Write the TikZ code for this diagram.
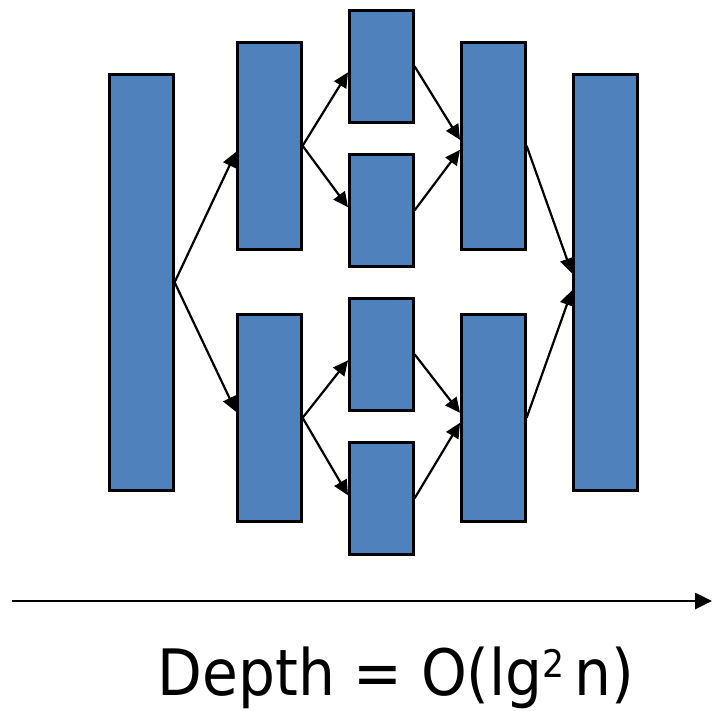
\documentclass[tikz,border=0pt]{standalone}
\usepackage{fontspec}
\setmainfont{DejaVu Sans}
\usetikzlibrary{arrows.meta}
\definecolor{boxblue}{HTML}{4F81BD}
\tikzset{
  blk/.style={draw=black, line width=2.6pt, fill=boxblue, minimum width=64pt, inner sep=0pt, anchor=north west},
  tall/.style={blk, minimum height=416pt},
  mid/.style={blk, minimum height=207pt},
  small/.style={blk, minimum height=112pt},
  conn/.style={line width=2.2pt, -{Triangle[length=15pt,width=14pt]}},
  axis/.style={line width=2.6pt, -{Triangle[length=17pt,width=16pt]}}
}
\begin{document}
\begin{tikzpicture}[x=1pt,y=-1pt]
\useasboundingbox (0,0) rectangle (712,711);
\node[tall]  (A)  at (108,73) {};
\node[mid]   (B1) at (236,41) {};
\node[mid]   (B2) at (236,313) {};
\node[small] (C1) at (348,9) {};
\node[small] (C2) at (348,153) {};
\node[small] (C3) at (348,297) {};
\node[small] (C4) at (348,441) {};
\node[mid]   (D1) at (460,41) {};
\node[mid]   (D2) at (460,313) {};
\node[tall]  (E)  at (572,73) {};
\draw[conn] (A.east) -- ([yshift=-6pt]B1.west);
\draw[conn] (A.east) -- ([yshift=6pt]B2.west);
\draw[conn] (B1.east) -- ([yshift=-6pt]C1.west);
\draw[conn] (B1.east) -- ([yshift=3pt]C2.west);
\draw[conn] (B2.east) -- ([yshift=-6pt]C3.west);
\draw[conn] (B2.east) -- ([yshift=3pt]C4.west);
\draw[conn] (C1.east) -- ([yshift=6pt]D1.west);
\draw[conn] (C2.east) -- ([yshift=-4pt]D1.west);
\draw[conn] (C3.east) -- ([yshift=5pt]D2.west);
\draw[conn] (C4.east) -- ([yshift=-5pt]D2.west);
\draw[conn] (D1.east) -- ([yshift=9pt]E.west);
\draw[conn] (D2.east) -- ([yshift=-8pt]E.west);
\coordinate (ax0) at (12,601);
\coordinate (ax1) at (712,601);
\draw[axis] (ax0) -- (ax1);
\node[anchor=base, inner sep=0pt, font=\fontsize{64}{70}\selectfont, xscale=0.91] (lbl) at (396,695) {Depth = O(lg\raisebox{0.5ex}{\fontsize{38}{40}\selectfont 2}\,n)};
\end{tikzpicture}
\end{document}
